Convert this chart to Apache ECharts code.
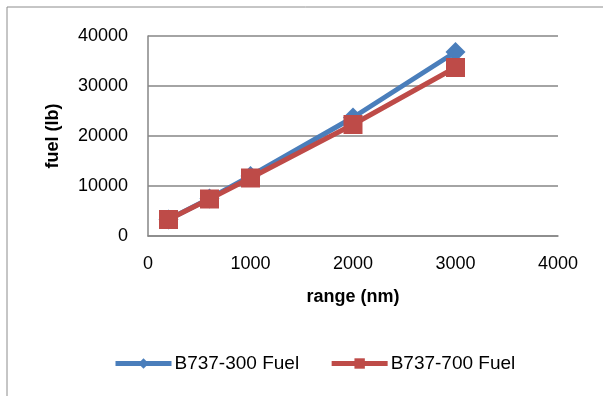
<!DOCTYPE html>
<html>
<head>
<meta charset="utf-8">
<script src="https://cdn.jsdelivr.net/npm/echarts@6/dist/echarts.min.js"></script>
<style>
  html, body { margin: 0; padding: 0; background: #fff; }
  #chart { width: 603px; height: 396px; }
</style>
</head>
<body>
<div id="chart"></div>
<script>
// range (nm) and fuel (lb)
const b737_300 = [[200, 3300], [600, 7500], [1000, 12000], [2000, 23700], [3000, 36800]];
const b737_700 = [[200, 3300], [600, 7400], [1000, 11600], [2000, 22300], [3000, 33700]];
const seriesNames = ['B737-300 Fuel', 'B737-700 Fuel'];

const font = '"Liberation Sans", Arial, sans-serif';
const gridColor = '#868686';

const chart = echarts.init(document.getElementById('chart'));

const option = {
  animation: false,
  textStyle: { fontFamily: font },
  graphic: [
    {
      type: 'rect',
      shape: { x: 7, y: 7, width: 700, height: 500 },
      style: { fill: 'none', stroke: '#8c8c8c', lineWidth: 1 },
      z: -1
    }
  ],
  grid: { left: 148, right: 45, top: 36, bottom: 160 },
  legend: {
    data: seriesNames,
    left: 113,
    top: 354,
    padding: 0,
    itemWidth: 56,
    itemHeight: 13,
    itemGap: 30,
    lineStyle: { width: 5 },
    textStyle: { fontSize: 19, color: '#000', fontFamily: font, padding: [0, 0, 0, -2] }
  },
  xAxis: {
    type: 'value',
    min: 0,
    max: 4000,
    interval: 1000,
    name: 'range (nm)',
    nameLocation: 'middle',
    nameGap: 52,
    nameTextStyle: { fontSize: 18, fontWeight: 'bold', color: '#000' },
    axisLine: { show: true, lineStyle: { color: gridColor, width: 1.5 } },
    axisTick: { show: false },
    axisLabel: { fontSize: 18, color: '#000', margin: 19, formatter: v => String(v) },
    splitLine: { show: false }
  },
  yAxis: {
    type: 'value',
    min: 0,
    max: 40000,
    interval: 10000,
    name: 'fuel (lb)',
    nameLocation: 'middle',
    nameGap: 86,
    nameRotate: 90,
    nameTextStyle: { fontSize: 18, fontWeight: 'bold', color: '#000' },
    axisLine: { show: true, lineStyle: { color: gridColor, width: 1.5 } },
    axisTick: { show: false },
    axisLabel: { fontSize: 18, color: '#000', margin: 20, formatter: v => String(v) },
    splitLine: { show: true, lineStyle: { color: gridColor, width: 1.5 } }
  },
  series: [
    {
      name: seriesNames[0],
      type: 'line',
      data: b737_300,
      symbol: 'diamond',
      symbolSize: 20,
      lineStyle: { width: 5, color: '#4A7EBB' },
      itemStyle: { color: '#4A7EBB' }
    },
    {
      name: seriesNames[1],
      type: 'line',
      data: b737_700,
      symbol: 'rect',
      symbolSize: 19,
      lineStyle: { width: 5, color: '#BE4B48' },
      itemStyle: { color: '#BE4B48' }
    }
  ]
};

chart.setOption(option);
</script>
</body>
</html>
